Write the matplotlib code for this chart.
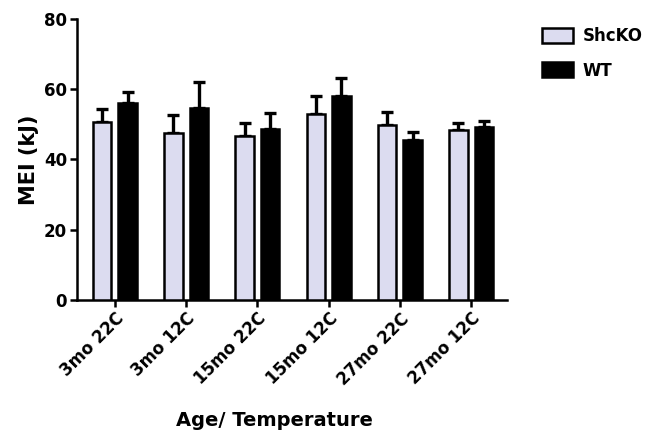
import matplotlib
matplotlib.use("Agg")
import matplotlib.pyplot as plt
import numpy as np

# values (mean and upper error)
groups = ["3mo 22C", "3mo 12C", "15mo 22C", "15mo 12C", "27mo 22C", "27mo 12C"]
shcko = [50.6, 47.5, 46.7, 53.1, 49.7, 48.3]
shcko_err = [3.9, 5.3, 3.8, 5.1, 3.7, 2.0]
wt = [56.2, 54.8, 48.8, 58.2, 45.5, 49.4]
wt_err = [3.1, 7.2, 4.5, 5.1, 2.2, 1.6]

plt.rcParams["font.family"] = ["DejaVu Sans"]
plt.rcParams["font.weight"] = "bold"

fig = plt.figure(figsize=(6.51, 4.34), dpi=100)
ax = fig.add_axes([0.118, 0.309, 0.661, 0.647])

x = np.arange(len(groups))
w = 0.26
off = 0.18

ax.bar(x - off, shcko, w, color="#dcdcf0", edgecolor="black", linewidth=1.8,
       label="ShcKO", zorder=3)
ax.bar(x + off, wt, w, color="black", edgecolor="black", linewidth=1.8,
       label="WT", zorder=3)
ax.errorbar(x - off, shcko, yerr=[np.zeros(len(x)), shcko_err], fmt="none",
            ecolor="black", elinewidth=2.4, capsize=4, capthick=2.4, zorder=2)
ax.errorbar(x + off, wt, yerr=[np.zeros(len(x)), wt_err], fmt="none",
            ecolor="black", elinewidth=2.4, capsize=4, capthick=2.4, zorder=2)

ax.set_xlim(-0.534, 5.506)
ax.set_ylim(0, 80)
ax.set_yticks([0, 20, 40, 60, 80])
ax.set_xticks(x)
ax.set_xticklabels(groups, rotation=45, ha="right", rotation_mode="anchor",
                   fontsize=12, fontweight="bold")
for lab in ax.get_yticklabels():
    lab.set_fontsize(12)
    lab.set_fontweight("bold")

for s in ["top", "right"]:
    ax.spines[s].set_visible(False)
for s in ["left", "bottom"]:
    ax.spines[s].set_linewidth(1.8)
ax.tick_params(axis="both", direction="out", length=5, width=1.8, pad=2)

ax.set_ylabel("MEI (kJ)", fontsize=15, fontweight="bold")
ax.yaxis.set_label_coords(-0.088, 0.5)
ax.set_xlabel("Age/ Temperature", fontsize=14, fontweight="bold")
ax.xaxis.set_label_coords(0.46, -0.395)

fig.legend(loc="upper left", bbox_to_anchor=(0.820, 0.957), frameon=False,
           borderpad=0, handlelength=1.85, handleheight=1.0, handletextpad=0.6,
           labelspacing=1.0, prop={"weight": "bold", "size": 12})

fig.savefig("out.png", dpi=100)
